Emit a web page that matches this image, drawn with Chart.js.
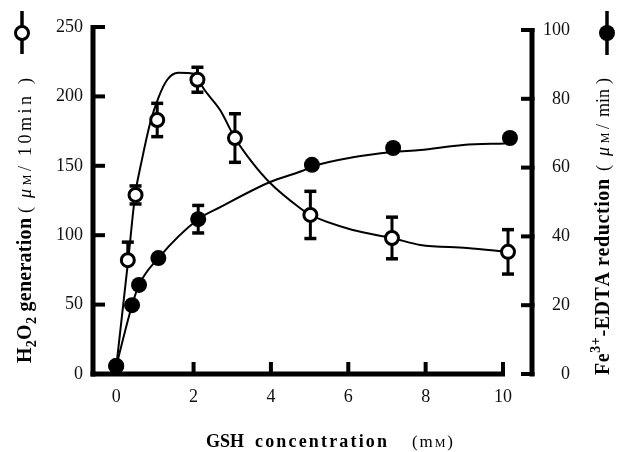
<!DOCTYPE html>
<html>
<head>
<meta charset="utf-8">
<script src="https://cdn.jsdelivr.net/npm/chart.js@4.4.0/dist/chart.umd.min.js"></script>
<style>
  html, body { margin: 0; padding: 0; background: #fff; }
  #wrap { width: 618px; height: 452px; }
</style>
</head>
<body>
<div id="wrap"><canvas id="chart" width="618" height="452"></canvas></div>
<script>
// tick labels
const xTicks = [0, 2, 4, 6, 8, 10];
const leftTicks = [0, 50, 100, 150, 200, 250];
const rightTicks = [0, 20, 40, 60, 80, 100];

// H2O2 generation (open circles, left axis)
const h2o2X = [0, 0.3, 0.5, 1.06, 2.1, 3.07, 5.02, 7.13, 10.13];
const h2o2Y = [5.8, 82, 129, 183, 212, 170, 114.6, 98, 88];
const h2o2Up = [0, 13, 6.5, 12, 9, 17.5, 17, 15, 16];
const h2o2Down = [0, 0, 6.5, 12, 9, 17.5, 17, 15, 16];

// fitted curve through the H2O2 data
const h2o2FitX = [0, 0.31, 0.49, 0.67, 0.88, 1.09, 1.32, 1.6, 2.05, 2.25, 2.69, 3.07, 3.5, 3.98, 4.75, 5.02, 6.12, 7.13, 7.86, 9.07, 10.13];
const h2o2FitY = [5, 82, 129, 155, 181, 199, 212, 217, 216, 206, 190, 170, 153, 137.6, 119.6, 114.6, 103.7, 98, 93, 90.8, 88];

// Fe3+-EDTA reduction (filled circles, right axis)
const feX = [0, 0.41, 0.59, 1.09, 2.12, 5.06, 7.16, 10.18];
const feY = [2.3, 20, 25.9, 33.7, 45, 60.8, 65.7, 68.6];
const feUp = [0, 0, 0, 0, 4, 0, 0, 0];
const feDown = [0, 0, 0, 0, 4, 0, 0, 0];

const feFitX = [0, 0.41, 0.59, 1.09, 2.12, 2.69, 3.98, 4.8, 5.06, 6.12, 7.16, 7.86, 8.97, 10.05];
const feFitY = [2.3, 20, 25.9, 33.7, 45, 48.5, 55.8, 59, 60.3, 63, 64.5, 65.1, 66.6, 67];

const pts = (xs, ys) => xs.map((x, i) => ({ x: x, y: ys[i] }));

const SERIF = '"Liberation Serif", "Times New Roman", serif';

// draw characters spread evenly over a given length (baseline at y=0 of current transform)
function spread(ctx, parts, x0, len) {
  const chars = [];
  parts.forEach(p => {
    for (const c of p.t) chars.push({ c: c, f: p.f, dy: p.dy || 0 });
  });
  let w = 0;
  chars.forEach(o => { ctx.font = o.f; o.w = ctx.measureText(o.c).width; w += o.w; });
  let gap = chars.length > 1 ? (len - w) / (chars.length - 1) : 0;
  if (gap < 0) gap = 0;
  let x = x0;
  chars.forEach(o => {
    ctx.font = o.f;
    ctx.fillText(o.c, x, o.dy);
    x += o.w + gap;
  });
}

function drawErr(ctx, xs, ys, up, down, sx, sy) {
  for (let i = 0; i < xs.length; i++) {
    if (!up[i] && !down[i]) continue;
    const px = sx.getPixelForValue(xs[i]);
    const top = sy.getPixelForValue(ys[i] + up[i]);
    const bot = sy.getPixelForValue(ys[i] - down[i]);
    ctx.lineWidth = 3;
    ctx.beginPath();
    ctx.moveTo(px, top);
    ctx.lineTo(px, bot);
    ctx.stroke();
    ctx.lineWidth = 3.5;
    if (up[i]) { ctx.beginPath(); ctx.moveTo(px - 6, top); ctx.lineTo(px + 6, top); ctx.stroke(); }
    if (down[i]) { ctx.beginPath(); ctx.moveTo(px - 6, bot); ctx.lineTo(px + 6, bot); ctx.stroke(); }
  }
}

const axesAndBars = {
  id: 'axesAndBars',
  beforeDatasetsDraw(chart) {
    const { ctx, chartArea, scales } = chart;
    const sx = scales.x, sy = scales.y, sy2 = scales.y2;
    ctx.save();
    ctx.strokeStyle = '#000';
    ctx.lineCap = 'butt';

    // left axis
    const lx = chartArea.left;
    ctx.lineWidth = 5;
    ctx.beginPath();
    ctx.moveTo(lx, chartArea.bottom + 2.5);
    ctx.lineTo(lx, sy.getPixelForValue(250) - 2);
    ctx.stroke();
    ctx.lineWidth = 4;
    leftTicks.forEach(v => {
      const py = sy.getPixelForValue(v);
      ctx.beginPath(); ctx.moveTo(lx, py); ctx.lineTo(lx + 12, py); ctx.stroke();
    });

    // bottom axis, ends at the last tick
    const by = chartArea.bottom;
    ctx.lineWidth = 5;
    ctx.beginPath();
    ctx.moveTo(lx - 2.5, by);
    ctx.lineTo(sx.getPixelForValue(10) + 2, by);
    ctx.stroke();
    ctx.lineWidth = 4;
    xTicks.forEach(v => {
      const px = sx.getPixelForValue(v);
      ctx.beginPath(); ctx.moveTo(px, by); ctx.lineTo(px, by - 12); ctx.stroke();
    });

    // right axis
    const rx = chartArea.right;
    ctx.lineWidth = 5;
    ctx.beginPath();
    ctx.moveTo(rx, sy2.getPixelForValue(0) + 2.5);
    ctx.lineTo(rx, sy2.getPixelForValue(100) - 2);
    ctx.stroke();
    ctx.lineWidth = 4;
    rightTicks.forEach(v => {
      const py = sy2.getPixelForValue(v);
      ctx.beginPath(); ctx.moveTo(rx + 2.5, py); ctx.lineTo(rx - 11, py); ctx.stroke();
    });

    // error bars
    drawErr(ctx, h2o2X, h2o2Y, h2o2Up, h2o2Down, sx, sy);
    drawErr(ctx, feX, feY, feUp, feDown, sx, sy2);
    ctx.restore();
  },
  afterDraw(chart) {
    const ctx = chart.ctx;
    ctx.save();
    ctx.fillStyle = '#000';
    ctx.textBaseline = 'alphabetic';
    ctx.textAlign = 'left';
    const B = 'bold 20px ' + SERIF;
    const Bsub = 'bold 14px ' + SERIF;
    const N = '18px ' + SERIF;
    const I = 'italic 18px ' + SERIF;
    const Ns = '12px ' + SERIF;

    // left title
    ctx.save();
    ctx.translate(31, 363);
    ctx.rotate(-Math.PI / 2);
    spread(ctx, [
      { t: 'H', f: B }, { t: '2', f: Bsub, dy: 5 }, { t: 'O', f: B }, { t: '2', f: Bsub, dy: 5 },
      { t: ' generation', f: B }
    ], 0, 145);
    spread(ctx, [{ t: '(', f: N }], 150, 6);
    spread(ctx, [{ t: 'μ', f: I }, { t: 'M', f: Ns }, { t: '/', f: N }], 165, 32);
    spread(ctx, [{ t: '10min', f: N }], 207, 60);
    spread(ctx, [{ t: ')', f: N }], 279, 6);
    ctx.restore();

    // right title
    ctx.save();
    ctx.translate(609, 375);
    ctx.rotate(-Math.PI / 2);
    spread(ctx, [
      { t: 'Fe', f: B }, { t: '3+', f: Bsub, dy: -9 }, { t: '-EDTA reduction', f: B }
    ], 0, 196);
    spread(ctx, [{ t: '(', f: N }], 204, 6);
    spread(ctx, [{ t: 'μ', f: I }, { t: 'M', f: Ns }, { t: '/', f: N }], 219, 32);
    spread(ctx, [{ t: 'min', f: N }], 258, 28);
    spread(ctx, [{ t: ')', f: N }], 291, 6);
    ctx.restore();

    // bottom title
    ctx.save();
    ctx.translate(0, 447);
    spread(ctx, [{ t: 'GSH', f: 'bold 18px ' + SERIF }], 206, 36);
    spread(ctx, [{ t: 'concentration', f: 'bold 18px ' + SERIF }], 255, 132);
    spread(ctx, [{ t: '(', f: '17px ' + SERIF }, { t: 'm', f: '17px ' + SERIF }, { t: 'M', f: '12px ' + SERIF }, { t: ')', f: '17px ' + SERIF }], 412, 41);
    ctx.restore();

    // series keys beside the axes
    ctx.strokeStyle = '#000';
    ctx.lineWidth = 3.5;
    ctx.beginPath(); ctx.moveTo(22, 11); ctx.lineTo(22, 54); ctx.stroke();
    ctx.beginPath(); ctx.arc(22, 33, 6.5, 0, Math.PI * 2);
    ctx.fillStyle = '#fff'; ctx.fill();
    ctx.lineWidth = 3; ctx.stroke();
    ctx.lineWidth = 3.5;
    ctx.beginPath(); ctx.moveTo(607, 11); ctx.lineTo(607, 55); ctx.stroke();
    ctx.beginPath(); ctx.arc(607, 33, 8, 0, Math.PI * 2);
    ctx.fillStyle = '#000'; ctx.fill();
    ctx.restore();
  }
};

const tickFont = { family: SERIF, size: 18 };
const fixTicks = arr => scale => { scale.ticks = arr.map(v => ({ value: v })); };

new Chart(document.getElementById('chart'), {
  type: 'scatter',
  data: {
    datasets: [
      {
        label: 'Fe3+-EDTA reduction',
        data: pts(feX, feY),
        yAxisID: 'y2',
        order: 0,
        pointRadius: 8,
        pointBackgroundColor: '#000',
        pointBorderColor: '#000',
        pointBorderWidth: 0,
        showLine: false
      },
      {
        label: 'H2O2 generation',
        data: pts(h2o2X, h2o2Y),
        yAxisID: 'y',
        order: 1,
        pointRadius: 6.5,
        pointBackgroundColor: '#fff',
        pointBorderColor: '#000',
        pointBorderWidth: 3,
        showLine: false
      },
      {
        label: 'Fe fit',
        data: pts(feFitX, feFitY),
        yAxisID: 'y2',
        order: 2,
        showLine: true,
        pointRadius: 0,
        borderColor: '#000',
        borderWidth: 2,
        cubicInterpolationMode: 'monotone'
      },
      {
        label: 'H2O2 fit',
        data: pts(h2o2FitX, h2o2FitY),
        yAxisID: 'y',
        order: 3,
        showLine: true,
        pointRadius: 0,
        borderColor: '#000',
        borderWidth: 2,
        cubicInterpolationMode: 'monotone'
      }
    ]
  },
  options: {
    responsive: false,
    animation: false,
    clip: false,
    layout: { padding: { top: 27, right: 48 } },
    plugins: {
      legend: { display: false },
      tooltip: { enabled: false }
    },
    scales: {
      x: {
        type: 'linear',
        min: -0.6,
        max: 10.75,
        grid: { display: false, drawTicks: false },
        border: { display: false },
        afterBuildTicks: fixTicks(xTicks),
        afterFit: s => { s.height = 78; },
        ticks: { font: tickFont, color: '#111', padding: 12 }
      },
      y: {
        position: 'left',
        min: 0,
        max: 250,
        grid: { display: false, drawTicks: false },
        border: { display: false },
        afterBuildTicks: fixTicks(leftTicks),
        afterFit: s => { s.width = 93; },
        ticks: { font: tickFont, color: '#111', padding: 10 }
      },
      y2: {
        position: 'right',
        min: 0,
        max: 100.87,
        grid: { display: false, drawTicks: false },
        border: { display: false },
        afterBuildTicks: fixTicks(rightTicks),
        afterFit: s => { s.width = 38; },
        ticks: { font: tickFont, color: '#111', padding: 10, crossAlign: 'far' }
      }
    }
  },
  plugins: [axesAndBars]
});
</script>
</body>
</html>
